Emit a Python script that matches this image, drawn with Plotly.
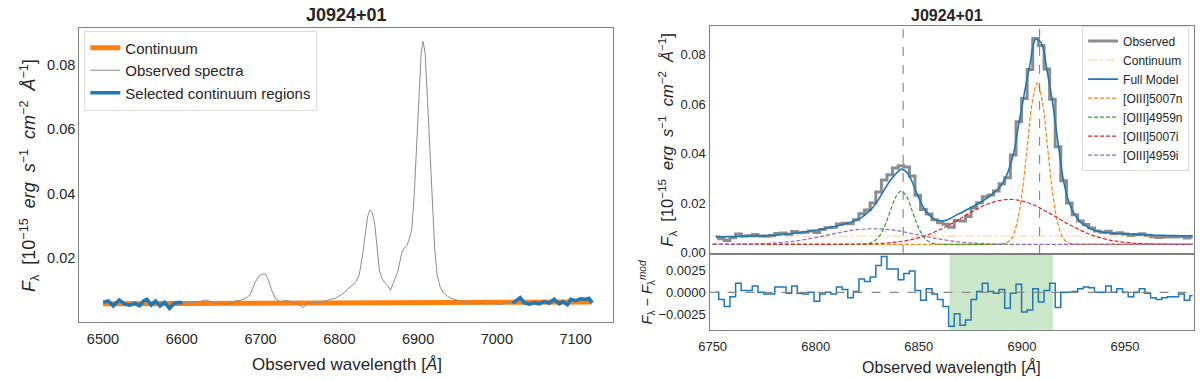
import plotly.graph_objects as go

# ---- left panel: full spectrum with continuum windows ----
sel_left_wl = [6500.4, 6506.7, 6513.0, 6520.5, 6527.7, 6534.0, 6540.2, 6546.5, 6551.6,
               6555.8, 6561.2, 6566.7, 6572.5, 6578.0, 6584.3, 6590.6, 6596.9, 6601.0]
sel_left_flux = [0.0063, 0.0067, 0.0051, 0.0070, 0.0057, 0.0054, 0.0060, 0.0052, 0.0067,
                 0.0072, 0.0054, 0.0067, 0.0051, 0.0063, 0.0044, 0.0060, 0.0063, 0.0060]
sel_right_wl = [7020.3, 7026.6, 7029.6, 7035.0, 7041.3, 7047.6, 7053.9, 7060.2, 7066.5, 7072.8,
                7079.1, 7084.1, 7089.6, 7093.8, 7100.1, 7106.4, 7112.7, 7116.9, 7121.1]
sel_right_flux = [0.0060, 0.0070, 0.0077, 0.0061, 0.0057, 0.0061, 0.0058, 0.0065, 0.0060, 0.0072,
                  0.0058, 0.0065, 0.0055, 0.0072, 0.0068, 0.0074, 0.0072, 0.0075, 0.0061]
mid_wl = [6605, 6612, 6618, 6624, 6630, 6637, 6643, 6650, 6656, 6662, 6668, 6674, 6681, 6687,
          6693, 6698, 6702, 6706, 6710, 6714, 6719, 6725, 6731, 6736, 6741, 6746, 6750, 6754,
          6759, 6765, 6771, 6777, 6783, 6789, 6795, 6801, 6806, 6811, 6816, 6821, 6825, 6829,
          6833, 6836, 6839, 6842, 6845, 6848, 6851, 6854, 6857, 6861, 6865, 6868, 6871, 6874,
          6877, 6880, 6883, 6886, 6889, 6892, 6895, 6898, 6901, 6904, 6906.5, 6909, 6912, 6915,
          6918, 6921, 6924, 6928, 6932, 6937, 6943, 6949, 6955, 6961, 6967, 6974, 6980, 6986,
          6992, 6998, 7004, 7010, 7016]
mid_flux = [0.0060, 0.0062, 0.0063, 0.0066, 0.0070, 0.0064, 0.0060, 0.0059, 0.0057, 0.0061,
            0.0067, 0.0069, 0.0075, 0.0086, 0.0124, 0.0144, 0.0150, 0.0151, 0.0132, 0.0100,
            0.0074, 0.0065, 0.0068, 0.0067, 0.0062, 0.0058, 0.0054, 0.0046, 0.0058, 0.0065,
            0.0061, 0.0063, 0.0068, 0.0072, 0.0075, 0.0083, 0.0092, 0.0105, 0.0114, 0.0127,
            0.0145, 0.0200, 0.0285, 0.0330, 0.0349, 0.0341, 0.0305, 0.0225, 0.0160, 0.0138,
            0.0126, 0.0116, 0.0100, 0.0120, 0.0138, 0.0155, 0.0190, 0.0222, 0.0232, 0.0240,
            0.0262, 0.0290, 0.0390, 0.0540, 0.0725, 0.0840, 0.0873, 0.0835, 0.0690, 0.0540,
            0.0390, 0.0235, 0.0150, 0.0110, 0.0092, 0.0082, 0.0074, 0.0070, 0.0064, 0.0060,
            0.0058, 0.0058, 0.0060, 0.0057, 0.0061, 0.0058, 0.0055, 0.0060, 0.0062]
cont_wl = [6500, 7120]
cont_flux = [0.0058, 0.0064]

# ---- right panel: binned [OIII] fit ----
bin_wl = [6751.6, 6754.3, 6757.0, 6759.8, 6762.5, 6765.2, 6767.9, 6770.6, 6773.4, 6776.1,
          6778.8, 6781.5, 6784.2, 6787.0, 6789.7, 6792.4, 6795.1, 6797.8, 6800.6, 6803.3,
          6806.0, 6808.7, 6811.4, 6814.2, 6816.9, 6819.6, 6822.3, 6825.0, 6827.8, 6830.5,
          6833.2, 6835.9, 6838.6, 6841.4, 6844.1, 6846.8, 6849.5, 6852.2, 6855.0, 6857.7,
          6860.4, 6863.1, 6865.8, 6868.6, 6871.3, 6874.0, 6876.7, 6879.4, 6882.2, 6884.9,
          6887.6, 6890.3, 6893.0, 6895.8, 6898.5, 6901.2, 6903.9, 6906.6, 6909.4, 6912.1,
          6914.8, 6917.5, 6920.2, 6923.0, 6925.7, 6928.4, 6931.1, 6933.8, 6936.6, 6939.3,
          6942.0, 6944.7, 6947.4, 6950.2, 6952.9, 6955.6, 6958.3, 6961.0, 6963.8, 6966.5,
          6969.2, 6971.9, 6974.6, 6977.4, 6980.1, 6982.8]
obs_binned = [0.0063, 0.0055, 0.0048, 0.0059, 0.0075, 0.0067, 0.0068, 0.0073, 0.0067, 0.0066,
              0.0068, 0.0077, 0.0079, 0.0074, 0.0085, 0.0080, 0.0082, 0.0087, 0.0081, 0.0093,
              0.0100, 0.0102, 0.0115, 0.0118, 0.0116, 0.0132, 0.0157, 0.0172, 0.0200, 0.0245,
              0.0293, 0.0314, 0.0342, 0.0351, 0.0346, 0.0309, 0.0231, 0.0174, 0.0156, 0.0132,
              0.0120, 0.0114, 0.0102, 0.0129, 0.0127, 0.0145, 0.0180, 0.0201, 0.0225, 0.0232,
              0.0249, 0.0278, 0.0302, 0.0394, 0.0529, 0.0623, 0.0740, 0.0866, 0.0837, 0.0742,
              0.0620, 0.0428, 0.0290, 0.0200, 0.0153, 0.0127, 0.0113, 0.0099, 0.0087, 0.0082,
              0.0086, 0.0077, 0.0080, 0.0075, 0.0069, 0.0073, 0.0076, 0.0070, 0.0064, 0.0061,
              0.0063, 0.0063, 0.0063, 0.0065, 0.0058, 0.0063]
full_model = [0.0063, 0.0063, 0.0064, 0.0064, 0.0065, 0.0065, 0.0066, 0.0066, 0.0067, 0.0068,
              0.0070, 0.0071, 0.0073, 0.0075, 0.0078, 0.0081, 0.0084, 0.0087, 0.0091, 0.0095,
              0.0100, 0.0104, 0.0109, 0.0115, 0.0122, 0.0131, 0.0142, 0.0160, 0.0183, 0.0215,
              0.0253, 0.0288, 0.0316, 0.0337, 0.0325, 0.0285, 0.0229, 0.0183, 0.0152, 0.0134,
              0.0128, 0.0130, 0.0140, 0.0153, 0.0164, 0.0176, 0.0188, 0.0200, 0.0215, 0.0231,
              0.0250, 0.0275, 0.0320, 0.0395, 0.0520, 0.0645, 0.0760, 0.0862, 0.0848, 0.0740,
              0.0610, 0.0445, 0.0290, 0.0200, 0.0152, 0.0123, 0.0107, 0.0094, 0.0087, 0.0082,
              0.0079, 0.0077, 0.0076, 0.0075, 0.0074, 0.0073, 0.0072, 0.0071, 0.0070, 0.0069,
              0.0069, 0.0068, 0.0068, 0.0067, 0.0067, 0.0067]
residual = [0.0000, -0.0008, -0.0016, -0.0005, 0.0010, 0.0002, 0.0002, 0.0007, 0.0000, -0.0002,
            -0.0002, 0.0006, 0.0006, -0.0001, 0.0007, -0.0001, -0.0002, 0.0000, -0.0010, -0.0002,
            0.0000, -0.0002, 0.0006, 0.0003, -0.0006, 0.0001, 0.0015, 0.0012, 0.0017, 0.0030,
            0.0040, 0.0026, 0.0026, 0.0014, 0.0021, 0.0024, 0.0002, -0.0009, 0.0004, -0.0002,
            -0.0008, -0.0016, -0.0038, -0.0024, -0.0037, -0.0031, -0.0008, 0.0001, 0.0010, 0.0001,
            -0.0001, 0.0003, -0.0018, -0.0001, 0.0009, -0.0022, -0.0020, 0.0004, -0.0011, 0.0002,
            0.0010, -0.0017, 0.0000, 0.0000, 0.0001, 0.0004, 0.0006, 0.0005, 0.0000, 0.0000,
            0.0007, 0.0000, 0.0004, 0.0000, -0.0005, 0.0000, 0.0004, -0.0001, -0.0006, -0.0008,
            -0.0006, -0.0005, -0.0005, -0.0002, -0.0009, -0.0004]
fit_cont_wl = [6750, 6983]
fit_cont_flux = [0.0066, 0.0066]

n5007_wl = [6750, 6880, 6887.5, 6892.5, 6895, 6897.5, 6900, 6902.5, 6905, 6907.5, 6910,
            6912.5, 6915, 6917.5, 6920, 6922.5, 6927.5, 6935, 6983]
n5007_flux = [0.0033, 0.0033, 0.0033, 0.0039, 0.0058, 0.0115, 0.0235, 0.0421, 0.0606, 0.0686,
              0.0606, 0.0421, 0.0235, 0.0115, 0.0058, 0.0039, 0.0033, 0.0033, 0.0033]
n4959_wl = [6750, 6820, 6824, 6826.5, 6829, 6831.5, 6834, 6836.5, 6839, 6841.5, 6844, 6846.5,
            6849, 6851.5, 6854, 6856.5, 6859, 6863, 6983]
n4959_flux = [0.0033, 0.0033, 0.0034, 0.0038, 0.0049, 0.0074, 0.0118, 0.0175, 0.0227, 0.0248,
              0.0227, 0.0175, 0.0118, 0.0074, 0.0049, 0.0038, 0.0034, 0.0033, 0.0033]
i5007_wl = [6750, 6814, 6824, 6834, 6844, 6854, 6864, 6874, 6884, 6894, 6904, 6914, 6924,
            6934, 6944, 6954, 6964, 6974, 6983]
i5007_flux = [0.0033, 0.0033, 0.0034, 0.0038, 0.0048, 0.0070, 0.0108, 0.0156, 0.0198, 0.0215,
              0.0198, 0.0156, 0.0108, 0.0070, 0.0048, 0.0038, 0.0034, 0.0033, 0.0033]
i4959_wl = [6750, 6758, 6768, 6778, 6788, 6798, 6808, 6818, 6828, 6838, 6848, 6858, 6868,
            6878, 6888, 6898, 6983]
i4959_flux = [0.0033, 0.0033, 0.0034, 0.0037, 0.0044, 0.0057, 0.0074, 0.0090, 0.0096, 0.0090,
              0.0074, 0.0057, 0.0044, 0.0037, 0.0034, 0.0033, 0.0033]

line_centers = [6842.4, 6908.6]
masked_region = [6865, 6915]

FONT = "Liberation Sans, Arial, sans-serif"
TXT = "#262626"
FRAME = "#808080"

fig = go.Figure()

# left panel
fig.add_trace(go.Scatter(x=cont_wl, y=cont_flux, mode="lines", name="Continuum",
                         line=dict(color="#ff7f0e", width=5), xaxis="x", yaxis="y", legend="legend"))
fig.add_trace(go.Scatter(x=sel_left_wl + mid_wl + sel_right_wl,
                         y=sel_left_flux + mid_flux + sel_right_flux,
                         mode="lines", name="Observed spectra",
                         line=dict(color="#8c8c8c", width=1), xaxis="x", yaxis="y", legend="legend"))
fig.add_trace(go.Scatter(x=sel_left_wl + [None] + sel_right_wl,
                         y=sel_left_flux + [None] + sel_right_flux,
                         mode="lines", name="Selected continuum regions",
                         line=dict(color="#1f77b4", width=3.5), xaxis="x", yaxis="y", legend="legend"))

# right panel, top
fig.add_trace(go.Scatter(x=bin_wl, y=obs_binned, mode="lines", name="Observed",
                         line=dict(color="#8c8c8c", width=3, shape="hvh"),
                         xaxis="x2", yaxis="y2", legend="legend2"))
fig.add_trace(go.Scatter(x=fit_cont_wl, y=fit_cont_flux, mode="lines", name="Continuum",
                         line=dict(color="rgba(255,127,14,0.4)", width=1, dash="dashdot"),
                         xaxis="x2", yaxis="y2", legend="legend2"))
fig.add_trace(go.Scatter(x=bin_wl, y=full_model, mode="lines", name="Full Model",
                         line=dict(color="#1f77b4", width=1.6, shape="spline"),
                         xaxis="x2", yaxis="y2", legend="legend2"))
components = [
    ("[OIII]5007n", n5007_wl, n5007_flux, "#ff7f0e"),
    ("[OIII]4959n", n4959_wl, n4959_flux, "#2ca02c"),
    ("[OIII]5007i", i5007_wl, i5007_flux, "#d62728"),
    ("[OIII]4959i", i4959_wl, i4959_flux, "#9467bd"),
]
for name, wl, fl, col in components:
    fig.add_trace(go.Scatter(x=wl, y=fl, mode="lines", name=name,
                             line=dict(color=col, width=1.2, dash="4px,2px", shape="spline"),
                             xaxis="x2", yaxis="y2", legend="legend2"))

# right panel, residuals
fig.add_trace(go.Scatter(x=bin_wl, y=residual, mode="lines", showlegend=False,
                         line=dict(color="#1f77b4", width=1.5, shape="hvh"),
                         xaxis="x3", yaxis="y3"))

shapes = [
    dict(type="rect", xref="x3", yref="y3 domain", x0=masked_region[0], x1=masked_region[1],
         y0=0, y1=1, fillcolor="rgba(44,160,44,0.25)", line_width=0, layer="below"),
    dict(type="line", xref="x3 domain", yref="y3", x0=0, x1=1, y0=0, y1=0,
         line=dict(color="#888888", width=1.2, dash="dash")),
]
for c in line_centers:
    shapes.append(dict(type="line", xref="x2", yref="y2 domain", x0=c, x1=c, y0=0, y1=1,
                       line=dict(color="#777777", width=1, dash="dash")))


def px(x, y):
    return x / 1200, 1 - y / 381


def label(text, x, y, size, angle=0, bold=False):
    xp, yp = px(x, y)
    if bold:
        text = "<b>" + text + "</b>"
    return dict(text=text, x=xp, y=yp, xref="paper", yref="paper", showarrow=False,
                textangle=angle, xanchor="center", yanchor="middle",
                font=dict(family=FONT, size=size, color=TXT))


sp = "&nbsp;&nbsp;"
flux_lbl = ("<i>F</i><sub>λ</sub>" + sp + "[10<sup>−15</sup>" + sp + "<i>erg</i>" + sp +
            "<i>s</i><sup>−1</sup>" + sp + "<i>cm</i><sup>−2</sup>" + sp + "<i>Å</i><sup>−1</sup>]")
annotations = [
    label("J0924+01", 339, 15, 18, bold=True),
    label("J0924+01", 945, 16, 16, bold=True),
    label(flux_lbl, 18, 178, 18, angle=-90),
    label(flux_lbl, 662, 142, 16.5, angle=-90),
    label("<i>F</i><sub>λ</sub> − <i>F</i><sub>λ</sub><sup><i>mod</i></sup>", 642, 297, 14.5, angle=-90),
    label("Observed wavelength [<i>Å</i>]", 339, 370, 17),
    label("Observed wavelength [<i>Å</i>]", 949, 373, 16),
]

ax_common = dict(showline=True, mirror=True, linecolor=FRAME, linewidth=1.3, showgrid=False,
                 zeroline=False, ticks="", tickfont=dict(family=FONT, size=14.5, color=TXT))
ax_small = dict(ax_common, tickfont=dict(family=FONT, size=13, color=TXT))

fig.update_layout(
    width=1200, height=381,
    margin=dict(l=0, r=0, t=0, b=0),
    paper_bgcolor="white", plot_bgcolor="white",
    font=dict(family=FONT, color=TXT),
    xaxis=dict(ax_common, domain=[69 / 1200, 608 / 1200], anchor="y", range=[6470, 7148],
               tick0=6500, dtick=100, ticklabelstandoff=4),
    yaxis=dict(ax_common, domain=[1 - 327 / 381, 1 - 28 / 381], anchor="x",
               range=[0.0002, 0.0916], tick0=0, dtick=0.02, tickformat=".2f"),
    xaxis2=dict(ax_small, domain=[705 / 1200, 1194 / 1200], anchor="y2", range=[6748.5, 6983.5],
                matches="x3", showticklabels=False),
    yaxis2=dict(ax_small, domain=[1 - 258 / 381, 1 - 26 / 381], anchor="x2",
                range=[-0.0006, 0.0918], tick0=0, dtick=0.02, tickformat=".2f"),
    xaxis3=dict(ax_small, domain=[705 / 1200, 1194 / 1200], anchor="y3", range=[6748.5, 6983.5],
                tick0=6750, dtick=50, ticklabelstandoff=5),
    yaxis3=dict(ax_small, domain=[1 - 335 / 381, 1 - 258 / 381], anchor="x3",
                range=[-0.0042, 0.0043], tickvals=[-0.0025, 0, 0.0025], tickformat=".4f"),
    legend=dict(x=px(74, 31)[0], y=px(74, 31)[1], xanchor="left", yanchor="top",
                bgcolor="white", bordercolor="#dddddd", borderwidth=1,
                font=dict(family=FONT, size=15, color=TXT)),
    legend2=dict(x=px(1189, 26)[0], y=px(1189, 26)[1], xanchor="right", yanchor="top",
                 bgcolor="white", bordercolor="#dddddd", borderwidth=1,
                 font=dict(family=FONT, size=12, color=TXT)),
    shapes=shapes,
    annotations=annotations,
)

fig.write_html("out.html", config={"displayModeBar": False},
               post_script="document.body.style.margin='0';")
